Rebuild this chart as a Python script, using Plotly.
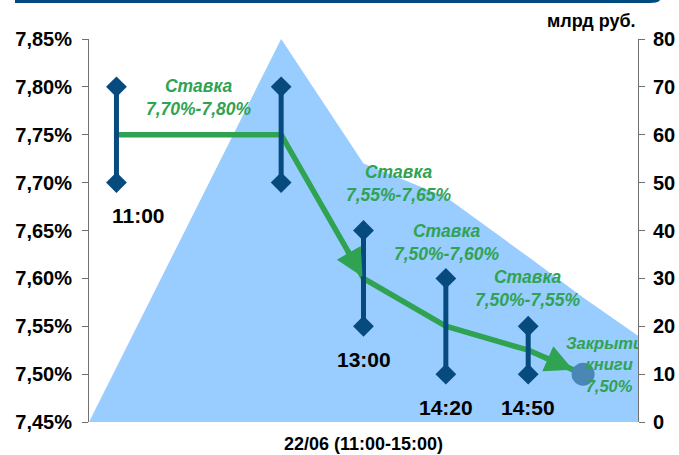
import plotly.graph_objects as go

# ---------------- data ----------------
# book volume (right axis, млрд руб.)
area_x = [0, 7, 10, 13, 16, 18, 20]
area_vol = [0, 80, 54, 47, 34.5, 26, 18]

# rate guidance ranges (left axis, %)
bar_x = [1, 7, 10, 13, 16]
bar_low = [7.70, 7.70, 7.55, 7.50, 7.50]
bar_high = [7.80, 7.80, 7.65, 7.60, 7.55]
time_labels = ["11:00", "", "13:00", "14:20", "14:50"]
rate_labels = ["Ставка<br>7,70%-7,80%", "", "Ставка<br>7,55%-7,65%",
               "Ставка<br>7,50%-7,60%", "Ставка<br>7,50%-7,55%"]

# rate path
path_x = [1, 7, 10, 13, 16, 18]
path_y = [7.75, 7.75, 7.60, 7.55, 7.525, 7.50]

# book closing
close_x = [18]
close_y = [7.50]
close_label = "Закрытие<br>книги<br>7,50%"

pct_ticks = [7.45, 7.50, 7.55, 7.60, 7.65, 7.70, 7.75, 7.80, 7.85]
pct_text = ["7,45%", "7,50%", "7,55%", "7,60%", "7,65%", "7,70%", "7,75%", "7,80%", "7,85%"]
vol_ticks = [0, 10, 20, 30, 40, 50, 60, 70, 80]

x_title = "22/06 (11:00-15:00)"
vol_unit = "млрд руб."

# ---------------- style ----------------
W, H = 679, 455
ML, MR, MT, MB = 89, 41, 39, 33
PW, PH = W - ML - MR, H - MT - MB
XR = [0, 20]
PR = [7.45, 7.85]
VR = [0, 80]
pxu = PW / (XR[1] - XR[0])          # px per x unit
pyu = PH / (PR[1] - PR[0])          # px per % unit

FONT = "Liberation Sans, Arial, sans-serif"
GREEN = "#2fa352"
NAVY = "#064a7e"
AREA = "#99ccff"
AXC = "#707070"

fig = go.Figure()

fig.add_trace(go.Scatter(x=area_x, y=area_vol, yaxis="y", mode="lines",
                         line=dict(width=0, color=AREA), fill="tozeroy",
                         fillcolor=AREA, hoverinfo="skip", showlegend=False))

fig.add_trace(go.Scatter(x=path_x, y=path_y, yaxis="y2", mode="lines",
                         line=dict(color=GREEN, width=5.5), showlegend=False))

bx, by = [], []
for xv, lo, hi in zip(bar_x, bar_low, bar_high):
    bx += [xv, xv, None]
    by += [lo, hi, None]
fig.add_trace(go.Scatter(x=bx, y=by, yaxis="y2", mode="lines+markers",
                         line=dict(color=NAVY, width=5),
                         marker=dict(symbol="diamond", size=16, color=NAVY),
                         showlegend=False))

fig.add_trace(go.Scatter(x=close_x, y=close_y, yaxis="y2", mode="markers",
                         marker=dict(size=23, color="#4a86b6"), showlegend=False))

# closing label as clipped text (clipped by plot area like the original)
fig.add_trace(go.Scatter(x=[close_x[0] + 26 / pxu], y=[close_y[0] + 8 / pyu],
                         yaxis="y2", mode="text",
                         text=["<b><i>" + close_label + "</i></b>"],
                         textposition="middle center", cliponaxis=True,
                         textfont=dict(family=FONT, size=16.5, color=GREEN),
                         showlegend=False, hoverinfo="skip"))

annotations = []

# time labels under bars
time_shift = [22, 0, 0, 0, 0]
for xv, lo, lab, xs in zip(bar_x, bar_low, time_labels, time_shift):
    if lab:
        annotations.append(dict(x=xv, y=lo, xref="x", yref="y2", text="<b>" + lab + "</b>",
                                showarrow=False, xshift=xs, yshift=-33,
                                font=dict(family=FONT, size=21, color="black")))

# rate labels above bars
rate_shift = [(83, -11), (0, 0), (35, 47), (1, 36), (0, 38)]
for xv, hi, lab, (xs, ys) in zip(bar_x, bar_high, rate_labels, rate_shift):
    if lab:
        annotations.append(dict(x=xv, y=hi, xref="x", yref="y2",
                                text="<b><i>" + lab + "</i></b>",
                                showarrow=False, xshift=xs, yshift=ys,
                                font=dict(family=FONT, size=17.5, color=GREEN)))

# arrow heads on the rate path
def arrow(i0, i1, standoff):
    dx = (path_x[i1] - path_x[i0]) * pxu
    dy = -(path_y[i1] - path_y[i0]) * pyu
    L = (dx * dx + dy * dy) ** 0.5
    k = (32 + standoff) / L
    return dict(x=path_x[i1], y=path_y[i1], xref="x", yref="y2",
                ax=-dx * k, ay=-dy * k, axref="pixel", ayref="pixel",
                showarrow=True, arrowhead=2, arrowsize=1, arrowwidth=5.5,
                arrowcolor=GREEN, standoff=standoff, text="")

annotations.append(arrow(1, 2, 2))
annotations.append(arrow(4, 5, 11))

annotations.append(dict(x=1, y=1, xref="paper", yref="paper", xanchor="right",
                        yanchor="middle", xshift=0, yshift=18,
                        text="<b>" + vol_unit + "</b>", showarrow=False,
                        font=dict(family=FONT, size=18, color="black")))
annotations.append(dict(x=0.5, y=0, xref="paper", yref="paper", xanchor="center",
                        yanchor="middle", yshift=-22,
                        text="<b>" + x_title + "</b>", showarrow=False,
                        font=dict(family=FONT, size=18, color="black")))

tickfont = dict(family=FONT, size=20, color="black")

fig.update_layout(
    width=W, height=H, margin=dict(l=ML, r=MR, t=MT, b=MB, autoexpand=False),
    paper_bgcolor="white", plot_bgcolor="white", showlegend=False,
    xaxis=dict(range=XR, showticklabels=False, ticks="", showline=False,
               showgrid=False, zeroline=False, automargin=False),
    yaxis=dict(range=VR, side="right", tickvals=vol_ticks,
               ticktext=["<b>%d</b>" % v for v in vol_ticks], ticks="outside",
               ticklen=6, tickcolor=AXC, showline=True, linecolor=AXC, linewidth=1,
               showgrid=False, zeroline=False, tickfont=tickfont,
               ticklabelstandoff=4, automargin=False),
    yaxis2=dict(range=PR, side="left", overlaying="y", tickvals=pct_ticks,
                ticktext=["<b>%s</b>" % t for t in pct_text], ticks="outside",
                ticklen=6, tickcolor=AXC,
                showline=True, linecolor=AXC, linewidth=1, showgrid=False,
                zeroline=False, tickfont=tickfont, ticklabelstandoff=6,
                automargin=False),
    yaxis3=dict(range=PR, side="left", overlaying="y", tickvals=pct_ticks,
                ticks="inside", ticklen=6, tickcolor=AXC, showticklabels=False,
                showline=False, showgrid=False, zeroline=False, automargin=False),
    yaxis4=dict(range=VR, side="right", overlaying="y", tickvals=vol_ticks,
                ticks="inside", ticklen=6, tickcolor=AXC, showticklabels=False,
                showline=False, showgrid=False, zeroline=False, automargin=False),
    annotations=annotations,
    shapes=[dict(type="path", xref="paper", yref="paper",
                 path="M %.4f,%.4f L %.4f,%.4f Q %.4f,%.4f %.4f,%.4f" % (
                     (15 - ML) / PW, (H - MB - 1.5) / PH,
                     (650 - ML) / PW, (H - MB - 1.5) / PH,
                     (656 - ML) / PW, (H - MB - 1.5) / PH,
                     (659 - ML) / PW, (H - MB + 0.5) / PH),
                 line=dict(color="#004a80", width=3))],
)

fig.write_html("out.html")
